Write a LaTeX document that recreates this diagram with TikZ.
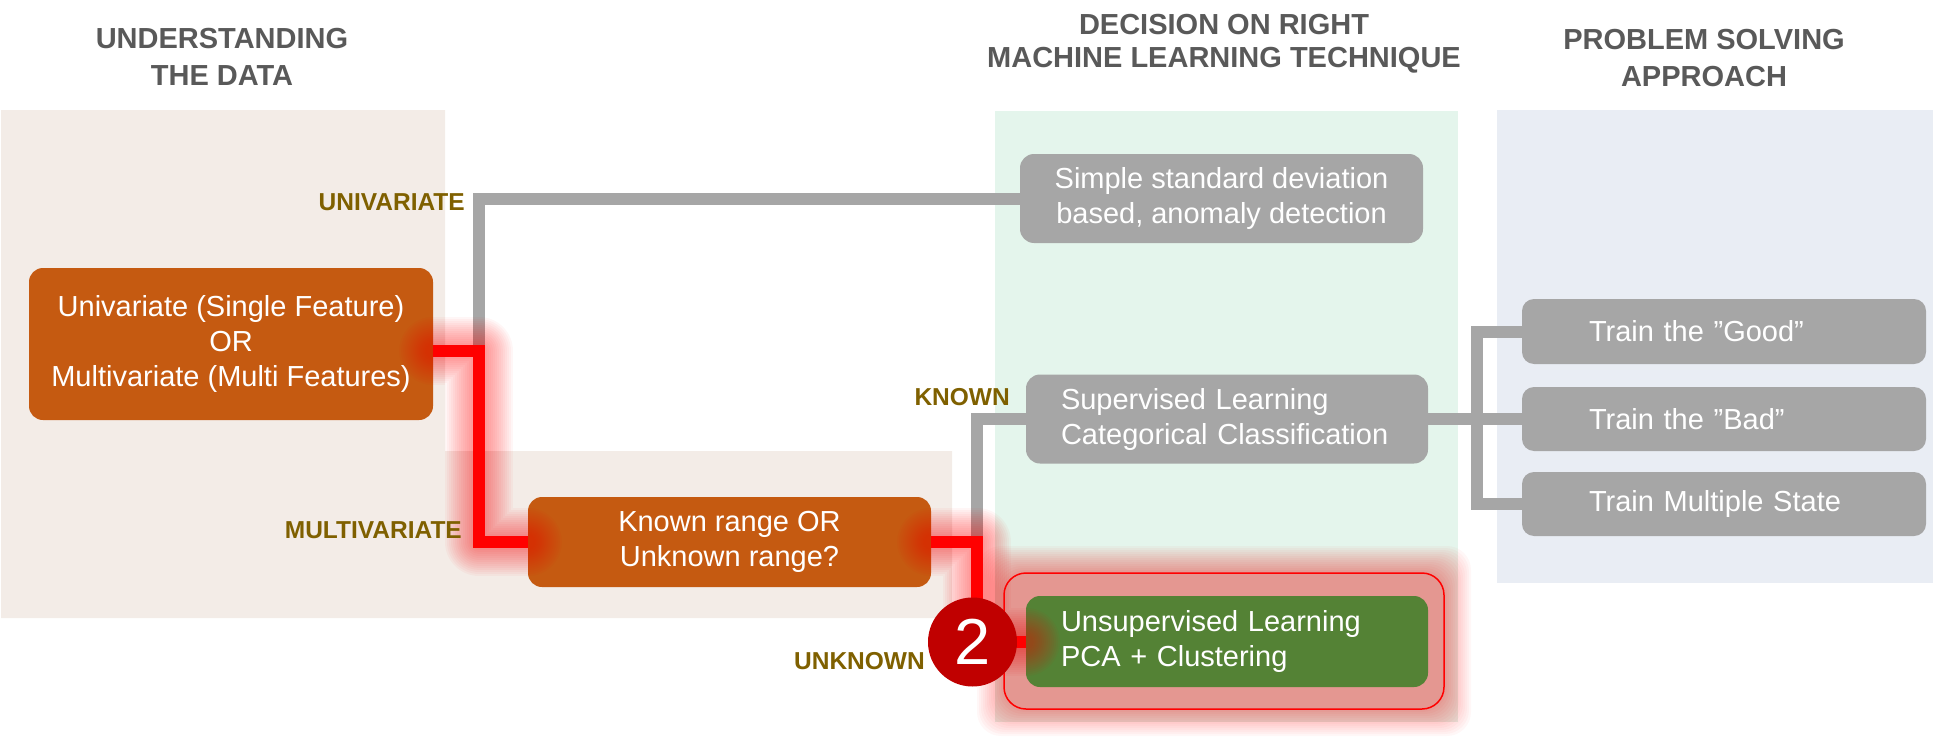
\documentclass[tikz,border=0pt]{standalone}
\usepackage{fontspec}
\setmainfont{Liberation Sans}
\usepackage{tikz}
\definecolor{panelbeige}{HTML}{F3ECE7}
\definecolor{panelmint}{HTML}{E4F5EC}
\definecolor{panelmist}{HTML}{E9EDF4}
\definecolor{rust}{HTML}{C55A11}
\definecolor{ash}{HTML}{A6A6A6}
\definecolor{leaf}{HTML}{548235}
\definecolor{crimson}{HTML}{C00000}
\definecolor{slate}{HTML}{595959}
\definecolor{umber}{HTML}{7F6000}
\begin{document}
\begin{tikzpicture}[x=1pt,y=-1pt,
  tile/.style={rounded corners=14pt, inner sep=0pt, text=white, font=\fontsize{29}{35}\selectfont},
  otile/.style={tile, fill=rust, align=center, minimum width=403pt, minimum height=90pt},
  gtile/.style={tile, fill=ash, align=center, minimum width=403pt, minimum height=89pt},
  ltile/.style={tile, align=left, text width=332pt, inner xsep=35pt, minimum height=89pt},
  rtile/.style={tile, fill=ash, align=left, rounded corners=12pt, text width=270pt, inner xsep=67pt, minimum height=64pt},
  colhead/.style={align=center, inner sep=0pt, text=slate, font=\fontsize{29}{37}\selectfont\bfseries},
  branch/.style={anchor=east, inner sep=0pt, text=umber, font=\fontsize{24.5}{29}\selectfont\bfseries},
  grayline/.style={draw=ash, line width=12pt},
  redline/.style={draw=red, line width=12pt},
  halo/.style={draw=red, line join=round, line cap=round, opacity=0.036}]
\useasboundingbox (0,0) rectangle (1933,752);
\fill[panelbeige] (1,110) -- (445,110) -- (445,451) -- (952,451) -- (952,618) -- (1,618) -- cycle;
\fill[panelmint] (995,111) rectangle (1458,722);
\fill[panelmist] (1497,110) rectangle (1933,583);
\node[colhead] (h1) at (222,56.5) {UNDERSTANDING\\THE DATA};
\node[colhead, font=\fontsize{29}{33}\selectfont\bfseries] (h2) at (1224,43.5) {DECISION ON RIGHT\\MACHINE LEARNING TECHNIQUE};
\node[colhead] (h3) at (1704,58.5) {PROBLEM SOLVING\\APPROACH};
\foreach \g in {1,3,...,27}
  \fill[red, fill opacity=0.033, rounded corners=24pt] ({1004-\g},{573-\g}) rectangle ({1444+\g},{709+\g});
\node[otile, minimum width=404pt, minimum height=152pt] (u) at (231,344) {Univariate (Single Feature)\\OR\\Multivariate (Multi Features)};
\node[otile] (k) at (729.5,542) {Known range OR\\Unknown range?};
\node[gtile] (sd) at (1221.5,198.5) {Simple standard deviation\\based, anomaly detection};
\node[ltile, fill=ash] (sup) at (1227,419) {Supervised Learning\\Categorical Classification};
\node[ltile, fill=leaf, minimum height=91pt] (uns) at (1227,641.5) {Unsupervised Learning\\PCA + Clustering};
\node[rtile, minimum height=65pt] (good) at (1724,331.5) {Train the ”Good”};
\node[rtile] (bad) at (1724,419) {Train the ”Bad”};
\node[rtile] (multi) at (1724,504) {Train Multiple State};
\draw[grayline] ([yshift=-7pt]u.east) -- ++(46,0) |- (sd.west);
\draw[grayline] (k.east) -- ++(46,0) |- (sup.west);
\draw[grayline] (sup.east) -- ++(49,0) |- (good.west);
\draw[grayline] (sup.east) -- (bad.west);
\draw[grayline] (sup.east) -- ++(49,0) |- (multi.west);
\foreach \w in {16,20,...,68} {
  \draw[halo, line width=\w pt] ([yshift=-7pt]u.east) -- ++(46,0) |- (k.west);
  \draw[halo, line width=\w pt] (k.east) -- ++(46,0) |- (uns.west);
}
\draw[redline] ([yshift=-7pt]u.east) -- ++(46,0) |- (k.west);
\draw[redline] (k.east) -- ++(46,0) |- (uns.west);
\draw[red, line width=1.5pt, rounded corners=22pt] (1004,573) rectangle (1444,709);
\node[circle, fill=crimson, text=white, inner sep=0pt, minimum size=89pt, font=\fontsize{65}{65}\selectfont] (two) at (972.5,642) {2};
\node[branch] (univ) at (465,202) {UNIVARIATE};
\node[branch] (multiv) at (462,530) {MULTIVARIATE};
\node[branch] (known) at (1010,397) {KNOWN};
\node[branch] (unknown) at (925,661) {UNKNOWN};
\end{tikzpicture}
\end{document}
